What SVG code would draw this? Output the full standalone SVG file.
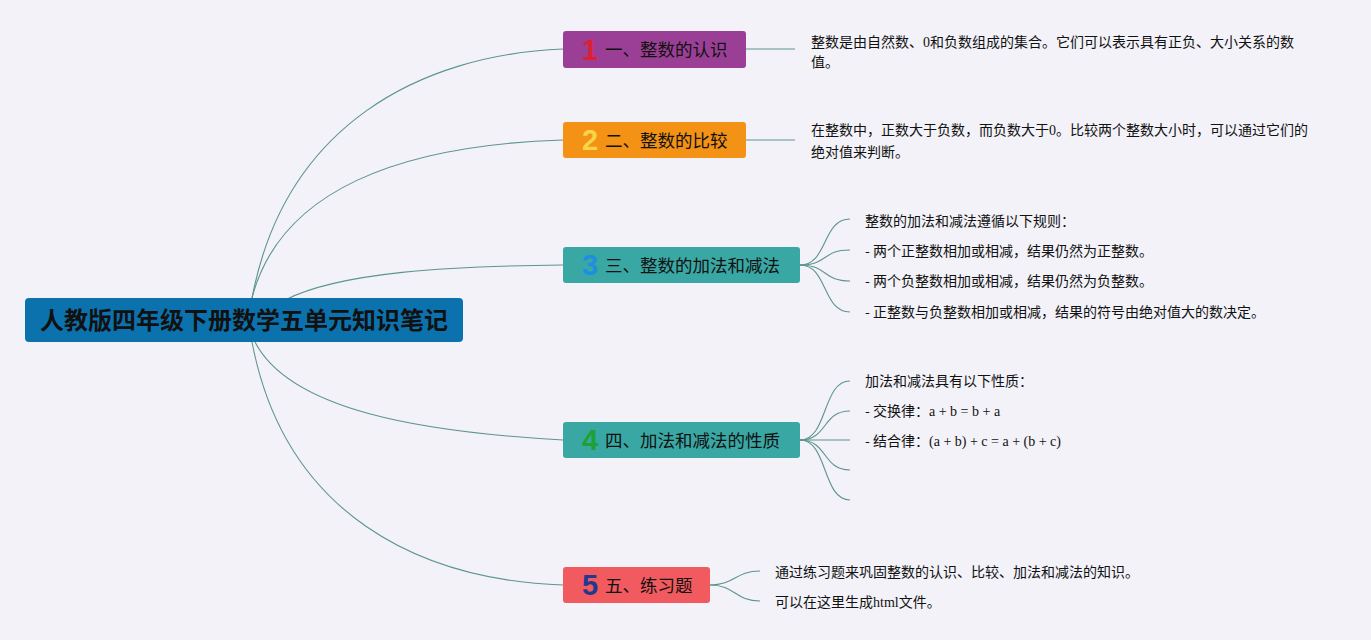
<svg xmlns="http://www.w3.org/2000/svg" width="1371" height="640" viewBox="0 0 1371 640">
<style>
.c{fill:none;stroke:#5c958d;stroke-width:1.1}
.lbl{font-family:"Noto Sans CJK SC","Noto Sans",sans-serif;font-size:17.5px;fill:#111}
.num{font-family:"Liberation Sans",Arial,sans-serif;font-weight:bold;font-size:29px}
.t{font-family:"Noto Sans CJK SC","Noto Sans",sans-serif;font-size:14px;fill:#111}
.s{font-family:"Liberation Serif",serif}
</style>
<rect width="1371" height="640" fill="#f2f2f8"/>
<g id="connectors">
<path class="c" d="M252,298 C285,125 420,55 563,49"/>
<path class="c" d="M252,298 C280,190 400,145 563,140"/>
<path class="c" d="M285,300 C340,272 450,266 563,265"/>
<path class="c" d="M255,342 C290,410 420,432 563,440"/>
<path class="c" d="M252,342 C285,515 420,580 563,585"/>
<path class="c" d="M746,49 H795"/>
<path class="c" d="M746,140 H795"/>
<path class="c" d="M800,265 C828,265 822,219 850,219"/>
<path class="c" d="M800,265 C828,265 822,250 850,250"/>
<path class="c" d="M800,265 C828,265 822,281 850,281"/>
<path class="c" d="M800,265 C828,265 822,312 850,312"/>
<path class="c" d="M800,440 C828,440 822,381 850,381"/>
<path class="c" d="M800,440 C828,440 822,411 850,411"/>
<path class="c" d="M800,440 H850"/>
<path class="c" d="M800,440 C828,440 822,470 850,470"/>
<path class="c" d="M800,440 C828,440 822,500 850,500"/>
<path class="c" d="M710,585 C735,585 735,571 760,571"/>
<path class="c" d="M710,585 C735,585 735,601 760,601"/>
</g>
<g id="root">
<rect x="25" y="298" width="438" height="44" rx="4" fill="#0c72ae"/>
<text x="244" y="329" text-anchor="middle" font-family="'Noto Sans CJK SC','Noto Sans',sans-serif" font-weight="bold" font-size="24" fill="#111">人教版四年级下册数学五单元知识笔记</text>
</g>
<g id="n1">
<rect x="563" y="31" width="183" height="37" rx="3" fill="#9b3f96"/>
<text class="num" x="590" y="60" text-anchor="middle" fill="#e0202e">1</text>
<text class="lbl" x="605" y="56">一、整数的认识</text>
</g>
<g id="n2">
<rect x="563" y="122" width="183" height="36" rx="3" fill="#f39214"/>
<text class="num" x="590" y="150" text-anchor="middle" fill="#f8d548">2</text>
<text class="lbl" x="605" y="147">二、整数的比较</text>
</g>
<g id="n3">
<rect x="563" y="247" width="237" height="36" rx="3" fill="#39a7a3"/>
<text class="num" x="590" y="275" text-anchor="middle" fill="#1e8fe0">3</text>
<text class="lbl" x="605" y="272">三、整数的加法和减法</text>
</g>
<g id="n4">
<rect x="563" y="422" width="237" height="36" rx="3" fill="#39a7a3"/>
<text class="num" x="590" y="450" text-anchor="middle" fill="#1ea032">4</text>
<text class="lbl" x="605" y="447">四、加法和减法的性质</text>
</g>
<g id="n5">
<rect x="563" y="567" width="147" height="36" rx="3" fill="#f15a5e"/>
<text class="num" x="590" y="595" text-anchor="middle" fill="#22378f">5</text>
<text class="lbl" x="605" y="592">五、练习题</text>
</g>
<g id="d1">
<text class="t" x="811" y="47">整数是由自然数、<tspan class="s">0</tspan>和负数组成的集合。它们可以表示具有正负、大小关系的数</text>
<text class="t" x="811" y="67">值。</text>
</g>
<g id="d2">
<text class="t" x="811" y="135">在整数中，正数大于负数，而负数大于<tspan class="s">0</tspan>。比较两个整数大小时，可以通过它们的</text>
<text class="t" x="811" y="157">绝对值来判断。</text>
</g>
<g id="d3">
<text class="t" x="865" y="226">整数的加法和减法遵循以下规则：</text>
<text class="t" x="865" y="256">- 两个正整数相加或相减，结果仍然为正整数。</text>
<text class="t" x="865" y="286">- 两个负整数相加或相减，结果仍然为负整数。</text>
<text class="t" x="865" y="317">- 正整数与负整数相加或相减，结果的符号由绝对值大的数决定。</text>
</g>
<g id="d4">
<text class="t" x="865" y="386">加法和减法具有以下性质：</text>
<text class="t" x="865" y="416">- 交换律：<tspan class="s">a + b = b + a</tspan></text>
<text class="t" x="865" y="446">- 结合律：<tspan class="s">(a + b) + c = a + (b + c)</tspan></text>
</g>
<g id="d5">
<text class="t" x="775" y="577">通过练习题来巩固整数的认识、比较、加法和减法的知识。</text>
<text class="t" x="775" y="607">可以在这里生成<tspan class="s">html</tspan>文件。</text>
</g>
</svg>
